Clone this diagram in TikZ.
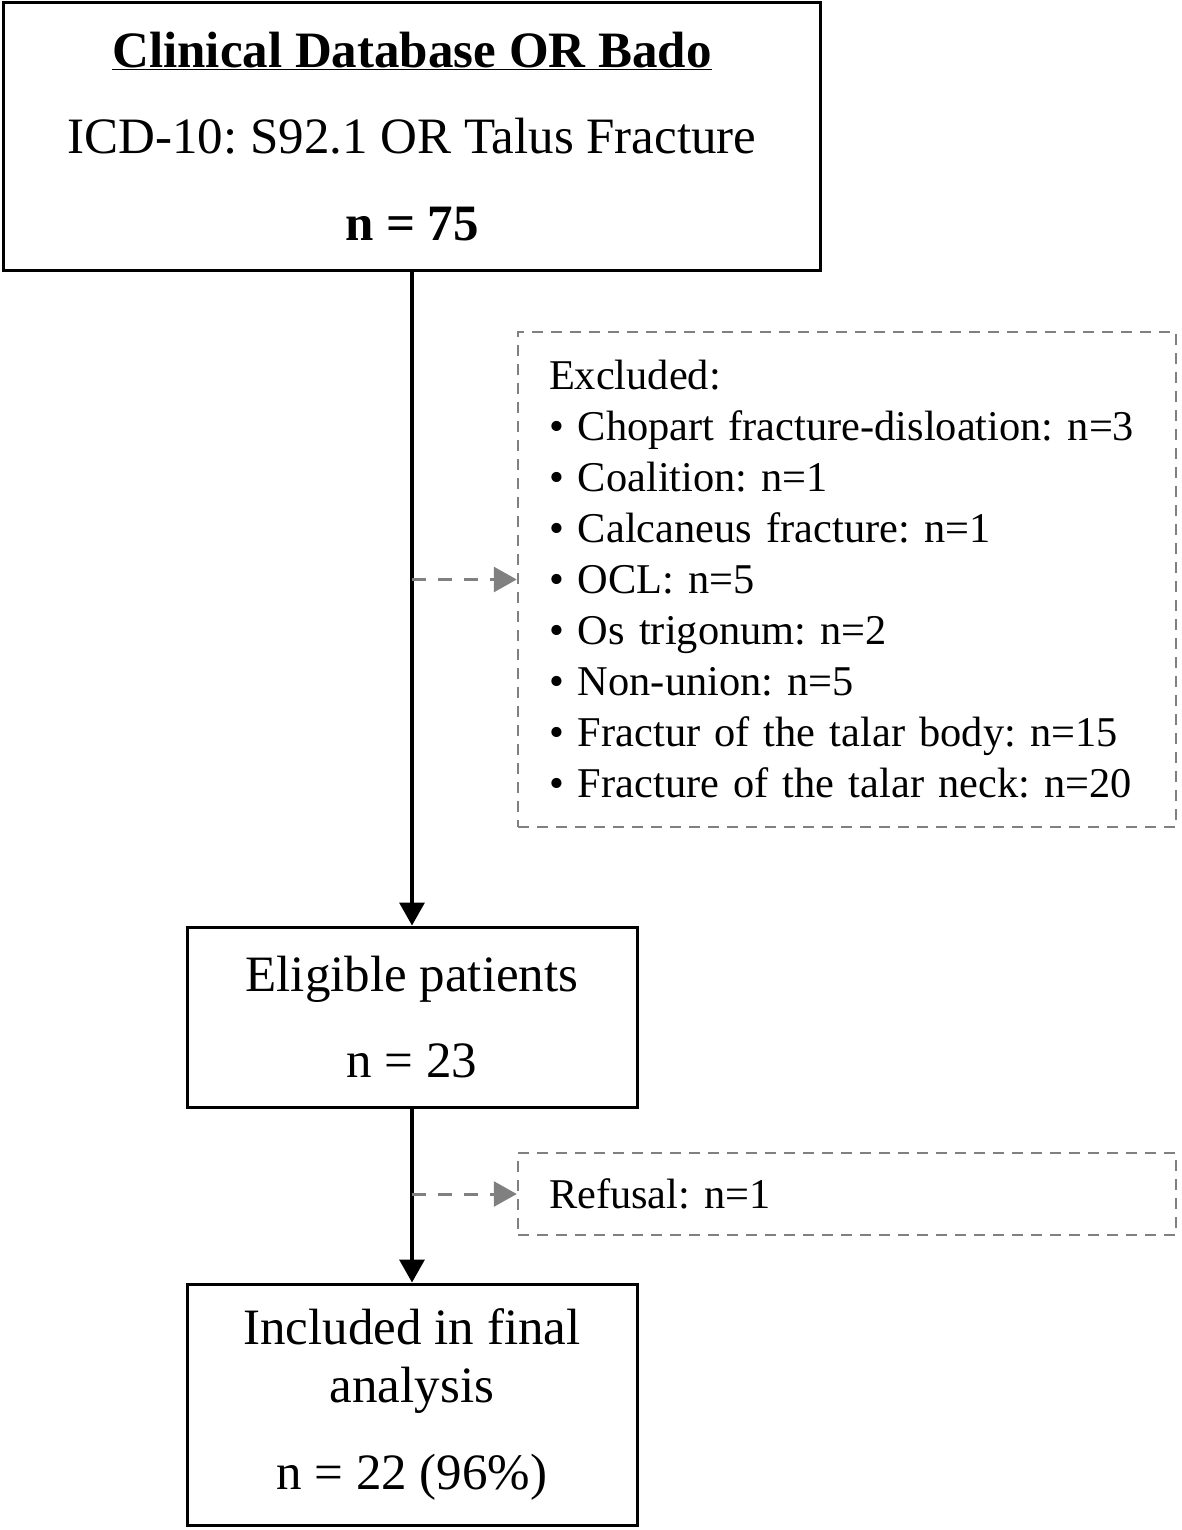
\documentclass[tikz,border=0pt]{standalone}
\usepackage{fontspec}
\setmainfont{Liberation Serif}
\usetikzlibrary{arrows.meta}
\definecolor{dashgray}{RGB}{128,128,128}
\frenchspacing

\begin{document}
\begin{tikzpicture}[x=1pt,y=-1pt]
	\tikzstyle{box}=[draw,line width=3pt,align=center,inner sep=0pt,font=\fontsize{51}{58}\selectfont];
	\tikzstyle{exbox}=[draw=dashgray,line width=2.5pt,dash pattern=on 11pt off 8pt,align=left,text width=596pt,inner xsep=31pt,inner ysep=0pt,font=\fontsize{42.4}{51}\selectfont];
	\tikzstyle{flow}=[line width=3.5pt,-{Triangle[length=23pt,width=25pt]}];
	\tikzstyle{exflow}=[dashgray,line width=3pt,dash pattern=on 14pt off 12pt,-{Triangle[length=23pt,width=25pt]}];
	\useasboundingbox (0,0) rectangle (1181,1530);
	% main boxes
	\node[box,minimum width=817pt,minimum height=267pt,font=\fontsize{51}{86.5}\selectfont] (db) at (412,136.5)
		{\textbf{\underline{Clinical Database OR Bado}}\\ICD-10: S92.1 OR Talus Fracture\\\textbf{n = 75}};
	\node[box,minimum width=450pt,minimum height=180pt,font=\fontsize{51}{86}\selectfont] (elig) at (412,1017) {Eligible patients\\n = 23};
	\node[box,minimum width=450pt,minimum height=241pt] (incl) at (412,1404.5) {Included in final\\analysis\\[29pt]n = 22 (96\%)};
	% exclusions
	\node[exbox,minimum height=495pt] (excl) at (847,579.5)
		{Excluded:\\
		\textbullet{} Chopart fracture-disloation: n=3\\
		\textbullet{} Coalition: n=1\\
		\textbullet{} Calcaneus fracture: n=1\\
		\textbullet{} OCL: n=5\\
		\textbullet{} Os trigonum: n=2\\
		\textbullet{} Non-union: n=5\\
		\textbullet{} Fractur of the talar body: n=15\\
		\textbullet{} Fracture of the talar neck: n=20};
	\node[exbox,minimum height=82pt] (refusal) at (847,1194) {Refusal: n=1};
	\coordinate (exfork) at (db.south |- excl.west);
	\coordinate (refork) at (db.south |- refusal.west);
	% connectors
	\draw[flow] (db) -- (elig);
	\draw[flow] (elig) -- (incl);
	\draw[exflow] (exfork) -- (excl);
	\draw[exflow] (refork) -- (refusal);
\end{tikzpicture}
\end{document}
